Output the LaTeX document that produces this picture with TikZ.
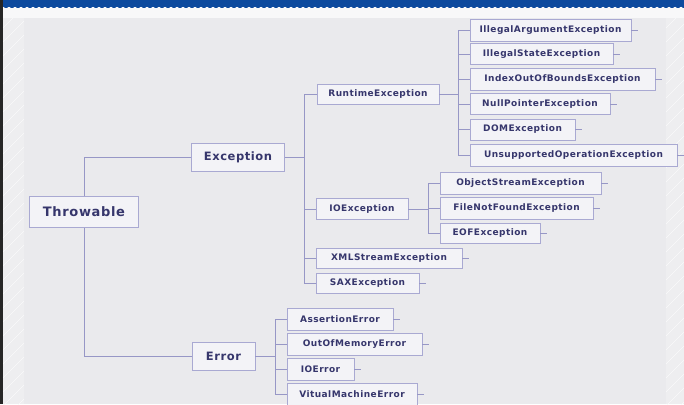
\documentclass[tikz,border=0pt]{standalone}
\usepackage{fontspec}
\setmainfont{DejaVu Sans}
\newfontfamily\boxfont[LetterSpace=5]{DejaVu Sans}
\definecolor{bgout}{HTML}{EEEEF0}
\definecolor{bgin}{HTML}{EAEAED}
\definecolor{bandblue}{HTML}{0D4A9E}
\definecolor{boxline}{HTML}{A9A9D2}
\definecolor{boxfill}{HTML}{F3F3F7}
\definecolor{txt}{HTML}{36366C}
\definecolor{conn}{HTML}{9797C6}
\tikzset{
  cls/.style={draw=boxline, fill=boxfill, line width=0.9pt, text=txt,
    inner sep=0pt, font=\boxfont\bfseries\fontsize{9}{10}\selectfont},
  big/.style={cls, font=\boxfont\bfseries\fontsize{11.5}{13}\selectfont},
  huge/.style={cls, font=\boxfont\bfseries\fontsize{13}{15}\selectfont},
  conline/.style={draw=conn, line width=0.9pt}
}
\begin{document}
\begin{tikzpicture}[x=1pt,y=-1pt]
\useasboundingbox (0,0) rectangle (684,404);
% background
\fill[bgout] (0,0) rectangle (684,404);
\foreach \i in {0,14,...,430} {
  \draw[white!70!bgout, line width=0.6pt] (3,\i) -- (24,\i-21);
  \draw[white!70!bgout, line width=0.6pt] (666,\i) -- (684,\i-18);
}
\fill[bgin] (24,18) rectangle (666,404);
\fill[white!60!bgout] (0,8) rectangle (684,18);
\fill[bandblue] (0,0) rectangle (684,8);
\foreach \i in {0,6,...,690} { \fill[white!60!bgout] (\i+3,9) circle (2.1); }
\fill[black!85] (0,0) rectangle (3,404);

% nodes
\node[huge, minimum width=109, minimum height=31] (thr) at (84,212) {Throwable};
\node[big, minimum width=93, minimum height=28] (exc) at (238,157) {Exception};
\node[big, minimum width=63, minimum height=28] (err) at (223.5,356) {Error};

\node[cls, minimum width=122, minimum height=20] (rte) at (378,94) {RuntimeException};
\node[cls, minimum width=92, minimum height=21] (ioe) at (362,209) {IOException};
\node[cls, minimum width=146, minimum height=20] (xml) at (389,258) {XMLStreamException};
\node[cls, minimum width=103, minimum height=20] (sax) at (367.5,283) {SAXException};

\node[cls, minimum width=161, minimum height=22] (iae) at (550.5,30) {IllegalArgumentException};
\node[cls, minimum width=143, minimum height=21] (ise) at (541.5,54) {IllegalStateException};
\node[cls, minimum width=185, minimum height=22] (iob) at (562.5,79) {IndexOutOfBoundsException};
\node[cls, minimum width=140, minimum height=21] (npe) at (540,104) {NullPointerException};
\node[cls, minimum width=105, minimum height=21] (dom) at (522.5,129.5) {DOMException};
\node[cls, minimum width=207, minimum height=22] (uoe) at (573.5,155) {UnsupportedOperationException};

\node[cls, minimum width=161, minimum height=22] (ose) at (520.5,183) {ObjectStreamException};
\node[cls, minimum width=153, minimum height=22] (fnf) at (516.5,208) {FileNotFoundException};
\node[cls, minimum width=100, minimum height=20] (eof) at (490,233) {EOFException};

\node[cls, minimum width=106, minimum height=22] (ase) at (340,319) {AssertionError};
\node[cls, minimum width=135, minimum height=22] (oom) at (354.5,344) {OutOfMemoryError};
\node[cls, minimum width=67, minimum height=22] (ioerr) at (320.5,369) {IOError};
\node[cls, minimum width=130, minimum height=22] (vme) at (352,394) {VitualMachineError};

% bus points
\coordinate (excbus) at (304,157);
\coordinate (rtebus) at (458,94);
\coordinate (ioebus) at (428,209);
\coordinate (errbus) at (275,356);

% connectors
\draw[conline] (exc.west) -| (thr.north);
\draw[conline] (err.west) -| (thr.south);

\draw[conline] (exc.east) -- (excbus);
\foreach \n in {rte,ioe,xml,sax} \draw[conline] (excbus) |- (\n.west);

\draw[conline] (rte.east) -- (rtebus);
\foreach \n in {iae,ise,iob,npe,dom,uoe} \draw[conline] (rtebus) |- (\n.west);

\draw[conline] (ioe.east) -- (ioebus);
\foreach \n in {ose,fnf,eof} \draw[conline] (ioebus) |- (\n.west);

\draw[conline] (err.east) -- (errbus);
\foreach \n in {ase,oom,ioerr,vme} \draw[conline] (errbus) |- (\n.west);

% right stubs
\foreach \n in {iae,ise,iob,npe,dom,uoe,ose,fnf,eof,xml,sax,ase,oom,ioerr,vme}
  \draw[conline, line width=0.6pt] (\n.east) -- ++(7,0);
\end{tikzpicture}
\end{document}
